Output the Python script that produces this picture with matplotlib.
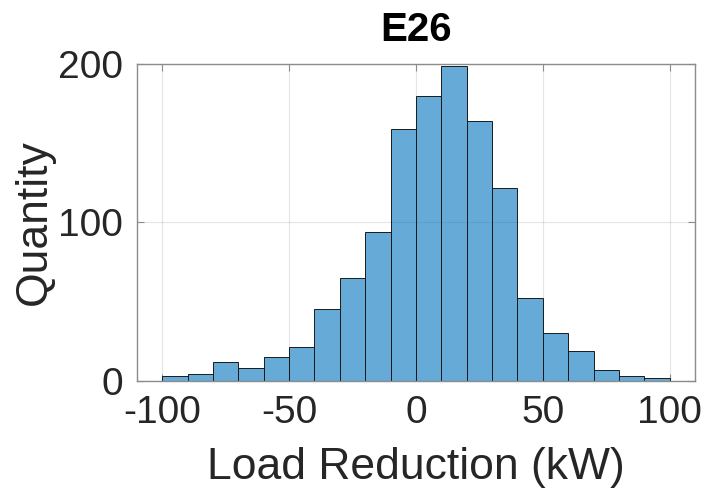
import numpy as np
import matplotlib
matplotlib.use("Agg")
import matplotlib.pyplot as plt

# bin edges (kW) and counts
bin_edges = [-100, -90, -80, -70, -60, -50, -40, -30, -20, -10, 0,
             10, 20, 30, 40, 50, 60, 70, 80, 90, 100]
counts = [3, 4, 12, 8, 15, 21, 45, 65, 94, 159,
          180, 199, 164, 122, 52, 30, 19, 7, 3, 2]

x_ticks = [-100, -50, 0, 50, 100]
y_ticks = [0, 100, 200]

plt.rcParams["font.family"] = ["Liberation Sans", "DejaVu Sans"]

fig = plt.figure(figsize=(7.05, 4.97), dpi=100)
ax = fig.add_axes([0.194, 0.234, 0.792, 0.637])

lefts = np.array(bin_edges[:-1])
widths = np.diff(bin_edges)
ax.bar(lefts, counts, width=widths, align="edge",
       facecolor=(0.0, 0.447, 0.741, 0.6), edgecolor="#1a1a1a",
       linewidth=0.7, zorder=2)

ax.set_xlim(-110, 110)
ax.set_ylim(0, 200)
ax.set_xticks(x_ticks)
ax.set_yticks(y_ticks)
ax.set_xticklabels([str(v) for v in x_ticks])
ax.grid(True, color="#262626", alpha=0.12, linewidth=0.8, zorder=0)
ax.set_axisbelow(True)

for s in ax.spines.values():
    s.set_color("#8c8c8c")
    s.set_linewidth(1.0)

ax.tick_params(direction="in", length=5, width=0.8, color="#8c8c8c",
               labelsize=28, labelcolor="#262626", top=True, right=True,
               pad=10)

ax.set_xlabel("Load Reduction (kW)", fontsize=32, color="#262626", labelpad=12)
ax.set_ylabel("Quantity", fontsize=32, color="#262626", labelpad=2)
ax.set_title("E26", fontsize=29, fontweight="bold", pad=17)

fig.savefig("out.png", dpi=100)
